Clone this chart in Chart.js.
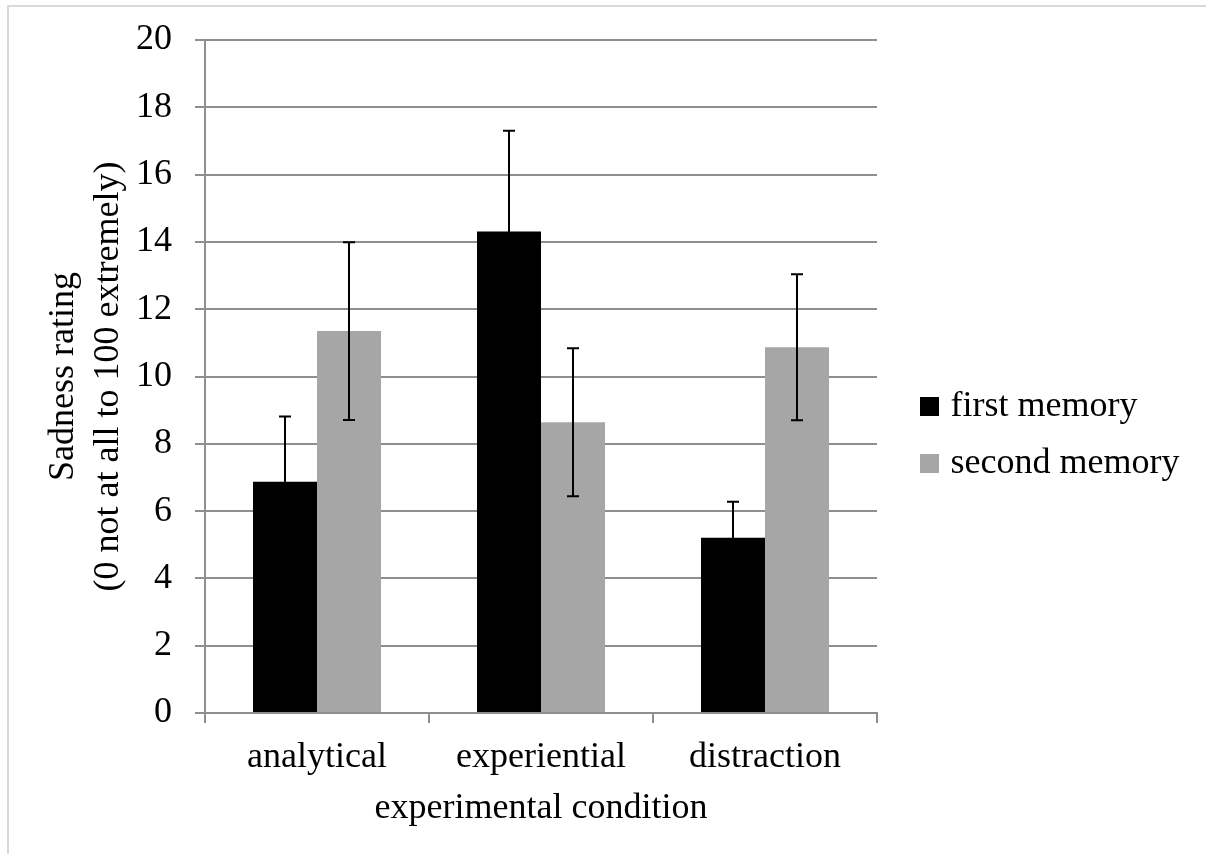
<!DOCTYPE html>
<html>
<head>
<meta charset="utf-8">
<script src="https://cdn.jsdelivr.net/npm/chart.js@4.4.1/dist/chart.umd.min.js"></script>
<style>
  html, body { margin: 0; padding: 0; background: #ffffff; }
  canvas { display: block; }
</style>
</head>
<body>
<canvas id="chart" width="1206" height="854"></canvas>
<script>
// Sadness ratings by experimental condition, with standard-error bars
const conditions = ['analytical', 'experiential', 'distraction'];
const seriesNames = ['first memory', 'second memory'];
const firstMemory = [6.87, 14.31, 5.21];
const secondMemory = [11.35, 8.64, 10.87];
const firstMemoryError = [1.94, 2.99, 1.07];
const secondMemoryError = [2.64, 2.2, 2.17];
const yTitleLines = ['Sadness rating', '(0 not at all to 100 extremely)'];
const xTitle = 'experimental condition';

const SERIF = "'Liberation Serif', 'Times New Roman', serif";
const GRID = '#8e8e8e';

Chart.defaults.color = '#000000';
Chart.defaults.font.family = SERIF;

// Error bars drawn from each bar's own position and the y scale
const errorBars = {
  id: 'errorBars',
  afterDatasetsDraw(chart) {
    const ctx = chart.ctx;
    const y = chart.scales.y;
    chart.data.datasets.forEach((ds, i) => {
      const meta = chart.getDatasetMeta(i);
      meta.data.forEach((bar, j) => {
        const v = ds.data[j];
        const e = ds.errors[j];
        const top = y.getPixelForValue(v + e);
        const bottom = y.getPixelForValue(v - e);
        const cap = 6;
        ctx.save();
        ctx.strokeStyle = '#000000';
        ctx.lineWidth = 2;
        ctx.beginPath();
        ctx.moveTo(bar.x, top);
        ctx.lineTo(bar.x, bottom);
        ctx.moveTo(bar.x - cap, top);
        ctx.lineTo(bar.x + cap, top);
        ctx.moveTo(bar.x - cap, bottom);
        ctx.lineTo(bar.x + cap, bottom);
        ctx.stroke();
        ctx.restore();
      });
    });
  }
};

// Light frame around the chart and legend offset from the plot
const frameAndLegend = {
  id: 'frameAndLegend',
  afterLayout(chart) {
    const lg = chart.legend;
    if (lg) {
      lg.left += 28.5;
      lg.right = chart.width;
    }
  },
  beforeDraw(chart) {
    const ctx = chart.ctx;
    ctx.save();
    ctx.strokeStyle = '#d9d9d9';
    ctx.lineWidth = 2;
    ctx.beginPath();
    ctx.moveTo(8, chart.height + 5);
    ctx.lineTo(8, 6);
    ctx.lineTo(chart.width + 5, 6);
    ctx.stroke();
    ctx.restore();
  }
};

new Chart(document.getElementById('chart'), {
  type: 'bar',
  data: {
    labels: conditions,
    datasets: [
      {
        label: seriesNames[0],
        data: firstMemory,
        errors: firstMemoryError,
        backgroundColor: '#000000',
        borderWidth: 0,
        categoryPercentage: 0.5714,
        barPercentage: 1.0
      },
      {
        label: seriesNames[1],
        data: secondMemory,
        errors: secondMemoryError,
        backgroundColor: '#a6a6a6',
        borderWidth: 0,
        categoryPercentage: 0.5714,
        barPercentage: 1.0
      }
    ]
  },
  options: {
    responsive: false,
    animation: false,
    devicePixelRatio: 1,
    layout: { padding: { top: 40, bottom: 24, left: 10, right: 79 } },
    plugins: {
      tooltip: { enabled: false },
      legend: {
        position: 'right',
        align: 'center',
        maxWidth: 250,
        labels: {
          font: { family: SERIF, size: 36 },
          color: '#000000',
          boxWidth: 6,
          boxHeight: 6,
          padding: 21,
          generateLabels(chart) {
            return chart.data.datasets.map((ds, i) => ({
              text: ds.label,
              fillStyle: ds.backgroundColor,
              strokeStyle: ds.backgroundColor,
              lineWidth: 13,
              hidden: false,
              datasetIndex: i
            }));
          }
        }
      }
    },
    scales: {
      x: {
        afterFit(scale) { scale.height = 117; },
        grid: {
          display: true,
          drawOnChartArea: false,
          drawTicks: true,
          tickLength: 10,
          color: GRID,
          lineWidth: 2,
          offset: true
        },
        border: { display: true, color: GRID, width: 2 },
        ticks: {
          font: { family: SERIF, size: 36 },
          color: '#000000',
          padding: 13,
          maxRotation: 0
        },
        title: {
          display: true,
          text: xTitle,
          font: { family: SERIF, size: 36, lineHeight: 1.2 },
          color: '#000000',
          padding: { top: 0, bottom: 0 }
        }
      },
      y: {
        min: 0,
        max: 20,
        afterFit(scale) {
          scale.width = 195;
          scale.paddingTop = 10;
          scale.paddingBottom = 10;
        },
        grid: {
          color: GRID,
          lineWidth: 2,
          drawTicks: true,
          tickLength: 10
        },
        border: { display: true, color: GRID, width: 2 },
        ticks: {
          stepSize: 2,
          font: { family: SERIF, size: 36 },
          color: '#000000',
          padding: 23
        },
        title: {
          display: true,
          text: yTitleLines,
          font: { family: SERIF, size: 36, lineHeight: 1.25 },
          color: '#000000',
          padding: { top: 31.5, bottom: 0 }
        }
      }
    }
  },
  plugins: [errorBars, frameAndLegend]
});
</script>
</body>
</html>
